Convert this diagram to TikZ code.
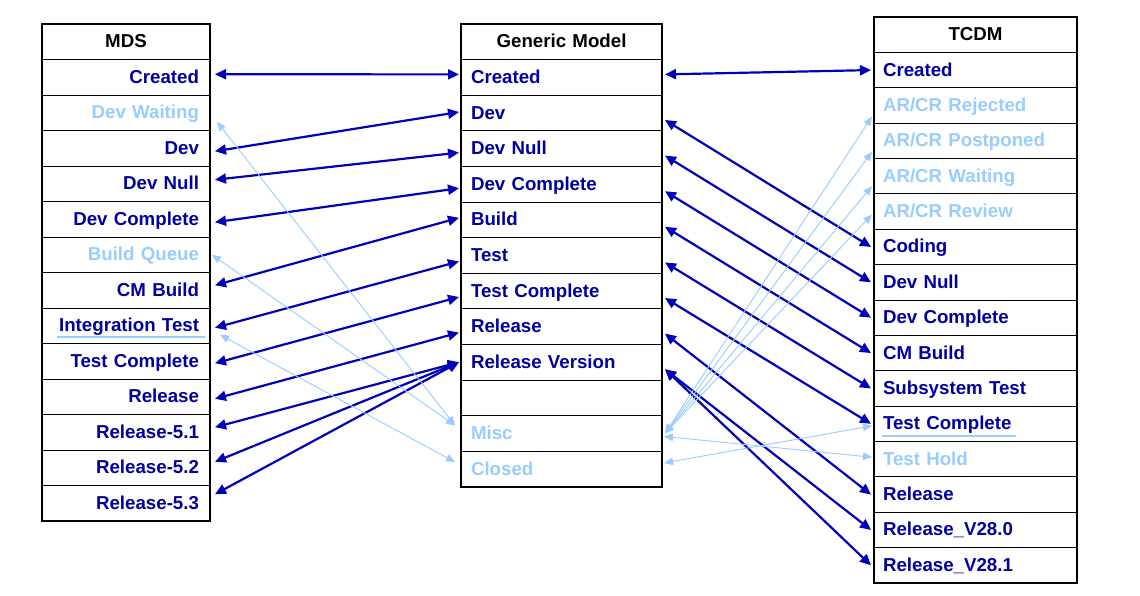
\documentclass[tikz,border=0pt]{standalone}
\usepackage{fontspec}
\setmainfont{Liberation Sans}
\usetikzlibrary{arrows.meta}
\definecolor{dk}{RGB}{0,0,160}
\definecolor{lt}{RGB}{153,204,255}
\definecolor{ar}{RGB}{0,0,185}
\begin{document}
\begin{tikzpicture}[x=1pt,y=-1pt,
  cell/.style={draw=black, line width=0.9pt, inner ysep=0pt, outer sep=0pt,
    text height=13.5pt, text depth=1.5pt, font=\fontsize{18.7}{22}\selectfont\bfseries},
  mdscell/.style={cell, minimum height=35.5pt, text width=146pt, inner xsep=11pt, align=right},
  gmcell/.style={cell, minimum height=35.6pt, text width=181pt, inner xsep=10pt, align=left},
  tccell/.style={cell, minimum height=35.375pt, text width=185pt, inner xsep=9pt, align=left},
  frame/.style={draw=black, line width=2.6pt},
  dka/.style={draw=ar, line width=2.2pt, {Triangle[length=11pt,width=10pt]}-{Triangle[length=11pt,width=10pt]}},
  lta/.style={draw=lt, line width=0.9pt, {Triangle[length=9pt,width=7.5pt]}-{Triangle[length=9pt,width=7.5pt]}},
  uline/.style={draw=lt, line width=1.8pt}
]
\useasboundingbox[fill=white] (0,0) rectangle (1140,595);

% ---------- MDS ----------
\node[mdscell, align=center, text=black] (mds0) at (126,41.75) {MDS};
\foreach [count=\i from 1] \t/\c in {Created/dk, Dev Waiting/lt, Dev/dk, Dev Null/dk,
  Dev Complete/dk, Build Queue/lt, CM Build/dk, Integration Test/dk, Test Complete/dk,
  Release/dk, Release-5.1/dk, Release-5.2/dk, Release-5.3/dk}
  \node[mdscell, text=\c] (mds\i) at (126,41.75+35.5*\i) {\t};
\draw[frame] (mds0.north west) rectangle (mds13.south east);

% ---------- Generic Model ----------
\node[gmcell, align=center, text=black] (gm0) at (561.5,41.8) {Generic Model};
\foreach [count=\i from 1] \t/\c in {Created/dk, Dev/dk, Dev Null/dk, Dev Complete/dk,
  Build/dk, Test/dk, Test Complete/dk, Release/dk, Release Version/dk, {}/dk, Misc/lt, Closed/lt}
  \node[gmcell, text=\c] (gm\i) at (561.5,41.8+35.6*\i) {\t};
\draw[frame] (gm0.north west) rectangle (gm12.south east);

% ---------- TCDM ----------
\node[tccell, align=center, text=black] (tc0) at (975.5,34.69) {TCDM};
\foreach [count=\i from 1] \t/\c in {Created/dk, {AR/CR Rejected}/lt, {AR/CR Postponed}/lt,
  {AR/CR Waiting}/lt, {AR/CR Review}/lt, Coding/dk, Dev Null/dk, Dev Complete/dk,
  CM Build/dk, Subsystem Test/dk, Test Complete/dk, Test Hold/lt, Release/dk,
  Release\_V28.0/dk, Release\_V28.1/dk}
  \node[tccell, text=\c] (tc\i) at (975.5,34.69+35.375*\i) {\t};
\draw[frame] (tc0.north west) rectangle (tc15.south east);

% underlines
\draw[uline] ([shift={(-153,11)}]mds8.east) -- ([shift={(-5,11)}]mds8.east);
\draw[uline] ([shift={(8,12)}]tc11.west) -- ([shift={(142,12)}]tc11.west);

% ---------- MDS <-> Generic ----------
\draw[dka] ([shift={(5,-3)}]mds1.east) -- ([shift={(-2,-3)}]gm1.west);
\draw[dka] ([shift={(5,3)}]mds3.east) -- ([shift={(-2,-1)}]gm2.west);
\draw[dka] ([shift={(5,-4)}]mds4.east) -- ([shift={(-2,4)}]gm3.west);
\draw[dka] ([shift={(5,3)}]mds5.east) -- ([shift={(-2,4)}]gm4.west);
\draw[dka] ([shift={(5,-5)}]mds7.east) -- ([shift={(-2,-2)}]gm5.west);
\draw[dka] ([shift={(5,2)}]mds8.east) -- ([shift={(-2,6)}]gm6.west);
\draw[dka] ([shift={(5,2)}]mds9.east) -- ([shift={(-2,6)}]gm7.west);
\draw[dka] ([shift={(5,2)}]mds10.east) -- ([shift={(-2,6)}]gm8.west);
\draw[dka] ([shift={(5,-5)}]mds11.east) -- ([shift={(-2,0)}]gm9.west);
\draw[dka] ([shift={(5,-6)}]mds12.east) -- ([shift={(-2,0)}]gm9.west);
\draw[dka] ([shift={(5,-9)}]mds13.east) -- ([shift={(-2,0)}]gm9.west);

% ---------- Generic <-> TCDM ----------
\draw[dka] ([shift={(3,-3)}]gm1.east) -- ([shift={(-3,0)}]tc1.west);
\draw[dka] ([shift={(3,7)}]gm2.east) -- ([shift={(-3,0)}]tc6.west);
\draw[dka] ([shift={(3,7)}]gm3.east) -- ([shift={(-3,0)}]tc7.west);
\draw[dka] ([shift={(3,7)}]gm4.east) -- ([shift={(-3,0)}]tc8.west);
\draw[dka] ([shift={(3,7)}]gm5.east) -- ([shift={(-3,0)}]tc9.west);
\draw[dka] ([shift={(3,7)}]gm6.east) -- ([shift={(-3,0)}]tc10.west);
\draw[dka] ([shift={(3,7)}]gm7.east) -- ([shift={(-3,0)}]tc11.west);
\draw[dka] ([shift={(3,7)}]gm8.east) -- ([shift={(-3,0)}]tc13.west);
\draw[dka] ([shift={(3,7)}]gm9.east) -- ([shift={(-3,0)}]tc14.west);
\draw[dka] ([shift={(3,7)}]gm9.east) -- ([shift={(-3,0)}]tc15.west);

% ---------- light mappings ----------
\draw[lta] ([shift={(7,9)}]mds2.east) -- ([shift={(-6,-8)}]gm11.west);
\draw[lta] ([shift={(2,0)}]mds6.east) -- ([shift={(-6,-8)}]gm11.west);
\draw[lta] ([shift={(10,9)}]mds8.east) -- ([shift={(-6,-7)}]gm12.west);
\draw[lta] ([shift={(3,0)}]gm11.east) -- ([shift={(-2,11)}]tc2.west);
\draw[lta] ([shift={(3,0)}]gm11.east) -- ([shift={(-2,11)}]tc3.west);
\draw[lta] ([shift={(3,0)}]gm11.east) -- ([shift={(-2,10)}]tc4.west);
\draw[lta] ([shift={(3,0)}]gm11.east) -- ([shift={(-2,3)}]tc5.west);
\draw[lta] ([shift={(2,3)}]gm11.east) -- ([shift={(-2,-2)}]tc12.west);
\draw[lta] ([shift={(2,-6)}]gm12.east) -- ([shift={(-2,2)}]tc11.west);
\end{tikzpicture}
\end{document}
